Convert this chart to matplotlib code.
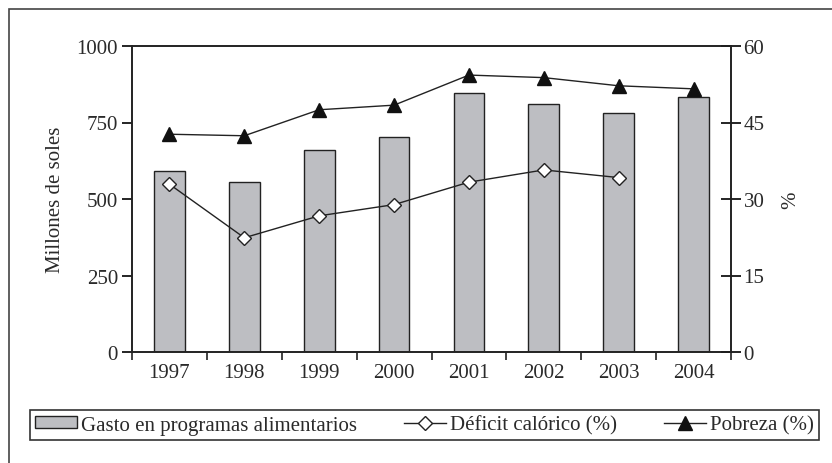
import matplotlib
matplotlib.use("Agg")
import matplotlib.pyplot as plt
import numpy as np
from matplotlib.patches import Rectangle

plt.rcParams['font.family'] = ['Liberation Serif', 'DejaVu Serif']

years = ['1997', '1998', '1999', '2000', '2001', '2002', '2003', '2004']
gasto = [592, 555, 660, 701, 847, 811, 780, 832]
deficit = [32.9, 22.4, 26.7, 28.9, 33.3, 35.7, 34.2, np.nan]
pobreza = [42.7, 42.4, 47.5, 48.4, 54.3, 53.8, 52.2, 51.6]

txt = '#2a2a2a'
fs = 15
fig = plt.figure(figsize=(8.32, 4.64), dpi=100)
# outer frame
fig.patches.append(Rectangle((9/832, -0.05), 1.1, 1 - 10/464 + 0.05, transform=fig.transFigure,
                             fill=False, edgecolor='#444444', linewidth=1.2))

ax = fig.add_axes([132/832, 1 - 353/464, 599/832, 306/464])
x = np.arange(len(years))
bars = ax.bar(x, gasto, width=0.41, color='#bdbec2', edgecolor='#222222', linewidth=1.0,
              label='Gasto en programas alimentarios')
ax.set_xlim(-0.5, 7.5)
ax.set_ylim(0, 1000)
ax.set_yticks([0, 250, 500, 750, 1000])
ax.set_xticks(np.arange(-0.5, 8, 1))
ax.set_xticklabels([])
ax.set_xticks(x, minor=True)
ax.set_xticklabels(years, minor=True)
ax.tick_params(axis='x', which='minor', length=0, pad=8, labelsize=fs, labelcolor=txt)
ax.tick_params(axis='x', which='major', direction='out', length=6, width=1.2, color='#222222')
ax.tick_params(axis='y', direction='out', length=7, width=1.2, labelsize=fs, labelcolor=txt, pad=3)
ax.set_ylabel('Millones de soles', fontsize=fs, color=txt, labelpad=8)
for s in ax.spines.values():
    s.set_linewidth(1.2)
    s.set_color('#222222')

ax2 = ax.twinx()
ax2.set_ylim(0, 60)
ax2.set_yticks([0, 15, 30, 45, 60])
ax2.tick_params(axis='y', direction='inout', length=14, width=1.2, labelsize=fs, labelcolor=txt, pad=2)
l1, = ax2.plot(x, deficit, color='#222222', linewidth=1.0, marker='D', markersize=7,
               markerfacecolor='white', markeredgecolor='#222222', markeredgewidth=1.0,
               label='Déficit calórico (%)')
l2, = ax2.plot(x, pobreza, color='#222222', linewidth=1.0, marker='^', markersize=10,
               markerfacecolor='#111111', markeredgecolor='#111111',
               label='Pobreza (%)')
ax2.set_ylabel('%', fontsize=fs, color=txt, rotation=90, labelpad=12)
for s in ax2.spines.values():
    s.set_linewidth(1.2)
    s.set_color('#222222')

leg = fig.legend([bars, l1, l2], ['Gasto en programas alimentarios', 'Déficit calórico (%)', 'Pobreza (%)'],
                 loc='lower left', bbox_to_anchor=(30/832, 1 - 441/464, 789/832, 35/464),
                 mode='expand', borderaxespad=0, ncol=3,
                 frameon=True, fancybox=False, edgecolor='#333333', framealpha=1,
                 fontsize=fs, handlelength=2.0, handletextpad=0.2, columnspacing=0.4,
                 borderpad=0.25, handleheight=0.5)
leg.get_frame().set_linewidth(1.2)
for t in leg.get_texts():
    t.set_color(txt)

fig.savefig('out.png', dpi=100)
